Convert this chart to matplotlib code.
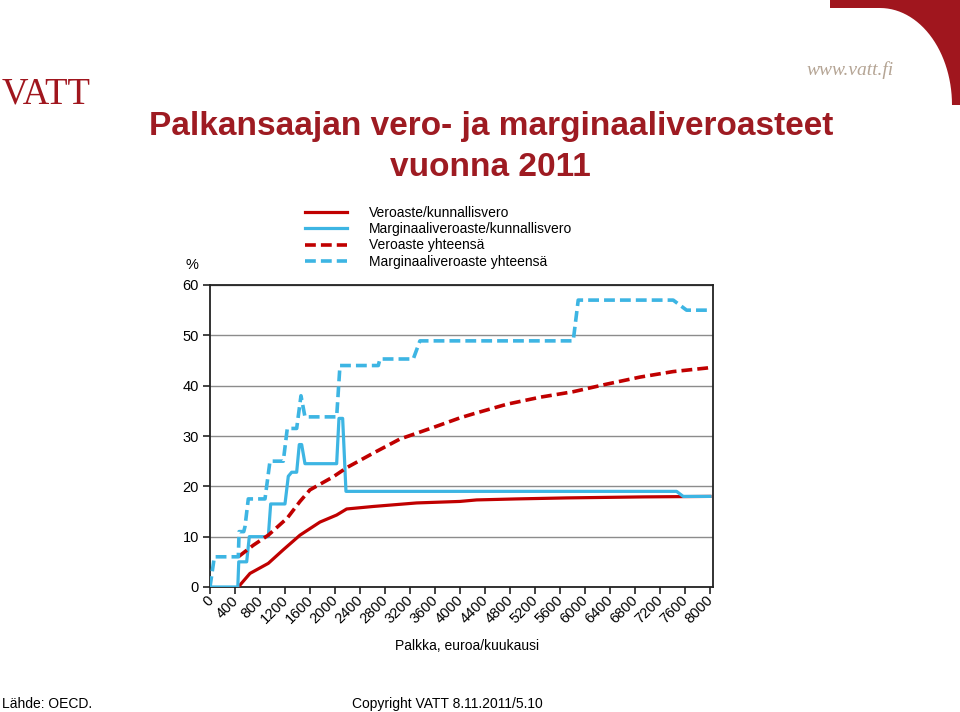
import matplotlib
matplotlib.use("Agg")
import matplotlib.pyplot as plt
import matplotlib.transforms as mtransforms
import numpy as np
from matplotlib.patches import Polygon
from matplotlib.lines import Line2D

plt.rcParams['font.family'] = ['Liberation Sans', 'DejaVu Sans']

# ---------------- data ----------------
# Veroaste/kunnallisvero (solid red)
tax_local_x = [453, 640, 933, 1173, 1440, 1760, 2027, 2187, 2613, 3307, 4000, 4267, 4907, 5707, 6933, 8000]
tax_local_y = [0.0, 2.7, 4.7, 7.4, 10.3, 12.9, 14.3, 15.5, 16.0, 16.7, 17.0, 17.3, 17.5, 17.7, 17.9, 18.0]

# Marginaaliveroaste/kunnallisvero (solid blue)
mrg_local_x = [0, 445, 460, 587, 629, 933, 971, 1200, 1253, 1307, 1387, 1429, 1467, 1520,
               2027, 2064, 2123, 2176, 7467, 7573, 8000]
mrg_local_y = [0, 0, 5, 5, 10, 10, 16.5, 16.5, 22.0, 22.8, 22.8, 28.3, 28.3, 24.5,
               24.5, 33.5, 33.5, 19.0, 19.0, 18.0, 18.0]

# Veroaste yhteensä (dashed red)
tax_total_x = [453, 693, 933, 1237, 1440, 1600, 1973, 2187, 2613, 3040, 3573, 4000,
               4213, 4747, 5280, 5813, 6347, 6880, 7413, 7947, 8000]
tax_total_y = [6.0, 8.3, 10.3, 13.7, 17.0, 19.3, 21.9, 23.7, 26.6, 29.4, 31.7, 33.6,
               34.4, 36.3, 37.7, 38.8, 40.3, 41.7, 42.8, 43.5, 43.6]

# Marginaaliveroaste yhteensä (dashed blue)
mrg_total_x = [0, 70, 453, 466, 540, 560, 613, 880, 960, 1173, 1237, 1387, 1456, 1520,
               2027, 2080, 2693, 2720, 3253, 3360, 5813, 5893, 7413, 7627, 8000]
mrg_total_y = [0, 6, 6, 11, 11, 12, 17.5, 17.5, 25, 25, 31.5, 31.5, 38, 33.8,
               33.8, 44, 44, 45.3, 45.3, 48.9, 48.9, 57, 57, 55, 55]

series_labels = ["Veroaste/kunnallisvero", "Marginaaliveroaste/kunnallisvero",
                 "Veroaste yhteensä", "Marginaaliveroaste yhteensä"]
x_ticks = list(range(0, 8001, 400))
y_ticks = [0, 10, 20, 30, 40, 50, 60]

RED = '#C00000'
BLUE = '#3DB5E3'
DARKRED = '#9E1B22'

W, H = 960, 712
fig = plt.figure(figsize=(W / 100, H / 100), dpi=100)


def fx(px):
    return px / W


def fy(py):
    return 1 - py / H


# ---------------- decorations ----------------
# top-right red corner band
t = np.linspace(0, np.pi / 2, 30)
inner = [(fx(880 + 72 * np.sin(a)), fy(105 - 97 * np.cos(a))) for a in t]
poly_pts = [(fx(830), fy(0)), (fx(960), fy(0)), (fx(960), fy(105)), (fx(952), fy(105))]
poly_pts += inner[::-1]
poly_pts += [(fx(830), fy(8))]
fig.patches.append(Polygon(poly_pts, closed=True, transform=fig.transFigure,
                           facecolor='#A0161E', edgecolor='none'))

fig.text(fx(850), fy(70), "www.vatt.fi", family=['Liberation Serif', 'DejaVu Serif'],
         style='italic', fontsize=14, color='#B5A595', ha='center', va='center')

# VATT logo
fig.text(fx(2), fy(104), "VATT", family=['Liberation Serif', 'DejaVu Serif'],
         fontsize=26.5, color='#A0161E', ha='left', va='baseline')

# title
fig.text(fx(491), fy(126), "Palkansaajan vero- ja marginaaliveroasteet", fontsize=24,
         fontweight='bold', color=DARKRED, ha='center', va='center')
fig.text(fx(490), fy(167), "vuonna 2011", fontsize=24,
         fontweight='bold', color=DARKRED, ha='center', va='center')

# ---------------- axes ----------------
ax = fig.add_axes([fx(210), fy(587), (713 - 210) / W, (587 - 285) / H])
lw_s = 2.3
lw_d = 2.6
ax.plot(tax_local_x, tax_local_y, color=RED, lw=lw_s, solid_joinstyle='round', zorder=3)
ax.plot(mrg_local_x, mrg_local_y, color=BLUE, lw=lw_s, solid_joinstyle='round', zorder=4)
ax.plot(tax_total_x, tax_total_y, color=RED, lw=lw_d, dashes=(3, 1.4), zorder=5)
ax.plot(mrg_total_x, mrg_total_y, color=BLUE, lw=lw_d, dashes=(3, 1.4), zorder=6)

ax.set_xlim(0, 8050)
ax.set_ylim(0, 60)
ax.set_xticks(x_ticks)
ax.set_yticks(y_ticks)
ax.set_xticklabels([str(v) for v in x_ticks], rotation=45, ha='right', va='top', fontsize=10.5)
ax.set_yticklabels([str(v) for v in y_ticks], fontsize=10.5)
ax.tick_params(axis='both', direction='out', length=5, width=1.2, color='#222222', pad=3)
ax.tick_params(axis='x', pad=1)
offset = mtransforms.ScaledTranslation(6 / 100, 2 / 100, fig.dpi_scale_trans)
for lab in ax.get_xticklabels():
    lab.set_transform(lab.get_transform() + offset)
ax.grid(axis='y', color='#8C8C8C', lw=1.0)
ax.set_axisbelow(True)
for s in ax.spines.values():
    s.set_color('#222222')
    s.set_linewidth(1.3)

fig.text(fx(192), fy(265), "%", fontsize=10.5, ha='center', va='center')
fig.text(fx(467), fy(646), "Palkka, euroa/kuukausi", fontsize=10, ha='center', va='center')

handles = [Line2D([], [], color=RED, lw=lw_s),
           Line2D([], [], color=BLUE, lw=lw_s),
           Line2D([], [], color=RED, lw=lw_d, dashes=(3, 1.4)),
           Line2D([], [], color=BLUE, lw=lw_d, dashes=(3, 1.4))]
fig.legend(handles, series_labels, loc='upper left', bbox_to_anchor=(fx(305), fy(206)),
           frameon=False, fontsize=10, handlelength=3.0, handletextpad=1.6,
           labelspacing=0.16, borderpad=0, borderaxespad=0)

# footer
fig.text(fx(2), fy(704), "Lähde: OECD.", fontsize=10, ha='left', va='center')
fig.text(fx(352), fy(704), "Copyright VATT 8.11.2011/5.10", fontsize=10, ha='left', va='center')

fig.savefig("out.png", dpi=100)
